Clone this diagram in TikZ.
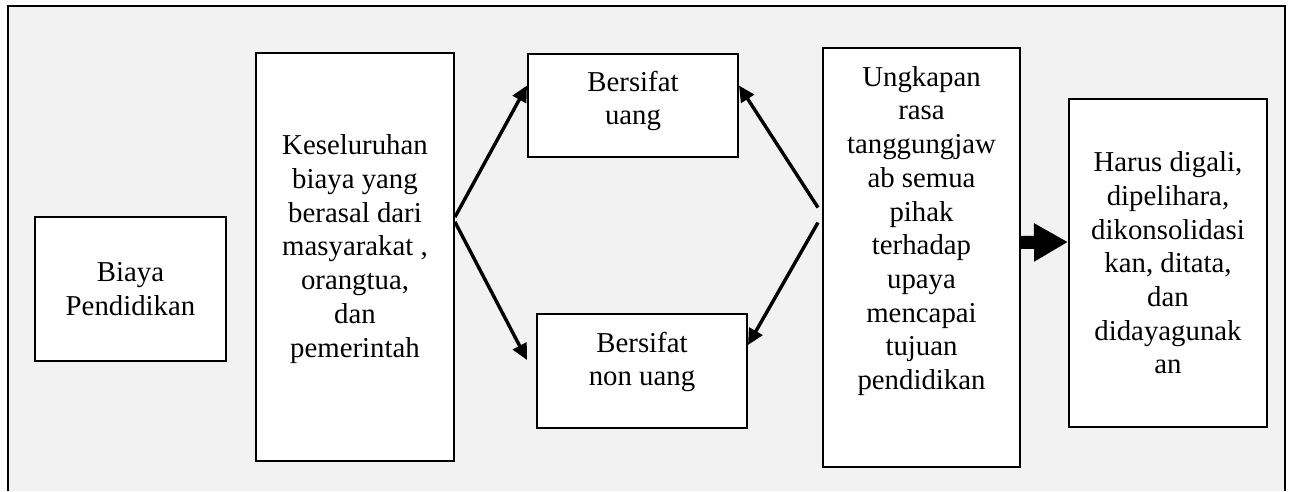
\documentclass[tikz,border=0pt]{standalone}
\usepackage{fontspec}
\setmainfont{Liberation Serif}
\usetikzlibrary{arrows.meta}

\begin{document}
\begin{tikzpicture}[x=1pt, y=-1pt,
    kotak/.style ={rectangle, draw, fill=white, line width=2pt, inner sep=0pt},
    teks/.style ={align=center, inner sep=0pt, font=\fontsize{28.8}{33.7}\selectfont},
    panah/.style ={line width=3.4pt, -{Triangle[length=16pt, width=15pt]}},
    panahbesar/.style ={line width=13pt, -{Triangle[length=34pt, width=36pt]}}]
   \useasboundingbox (0,0) rectangle (1293,491);
   \fill[gray!10] (8,6) rectangle (1285,491);
   \draw[line width=1.5pt] (8,491) |- (1285,6) -- (1285,491);

   \node[kotak, minimum width=191pt, minimum height=144pt] (biaya)  at (130.5,289)  {};
   \node[kotak, minimum width=198pt, minimum height=408pt] (keseluruhan)  at (355,257)  {};
   \node[kotak, minimum width=210pt, minimum height=103pt] (uang)  at (633,105.5)  {};
   \node[kotak, minimum width=210pt, minimum height=114pt] (nonuang)  at (642,371)  {};
   \node[kotak, minimum width=197pt, minimum height=419pt] (ungkapan)  at (921.5,257.5)  {};
   \node[kotak, minimum width=198pt, minimum height=328pt] (harus)  at (1168,263)  {};

   \node[teks] (biaya-t)  at (130.5,289)  {Biaya\\Pendidikan};
   \node[teks] (keseluruhan-t)  at (355,249)  {Keseluruhan\\biaya yang\\berasal dari\\masyarakat ,\\orangtua,\\dan\\pemerintah};
   \node[teks] (uang-t)  at (633,101)  {Bersifat\\uang};
   \node[teks] (nonuang-t)  at (642,362)  {Bersifat\\non uang};
   \node[teks] (ungkapan-t)  at (921.5,231)  {Ungkapan\\rasa\\tanggungjaw\\ab semua\\pihak\\terhadap\\upaya\\mencapai\\tujuan\\pendidikan};
   \node[teks] (harus-t)  at (1168,263)  {Harus digali,\\dipelihara,\\dikonsolidasi\\kan, ditata,\\dan\\didayagunak\\an};

   \draw[panah] ([yshift=40pt]keseluruhan.east) to  ([yshift=20pt]uang.west);
   \draw[panah] ([yshift=35pt]keseluruhan.east) to  ([xshift=-9pt, yshift=11pt]nonuang.west);
   \draw[panah] ([xshift=-4pt, yshift=50pt]ungkapan.west) to  ([yshift=20pt]uang.east);
   \draw[panah] ([xshift=-4pt, yshift=35pt]ungkapan.west) to  ([yshift=26pt]nonuang.east);
   \draw[panahbesar] ([yshift=15pt]ungkapan.east) to  ([yshift=21pt]harus.west);
 \end{tikzpicture}
\end{document}
